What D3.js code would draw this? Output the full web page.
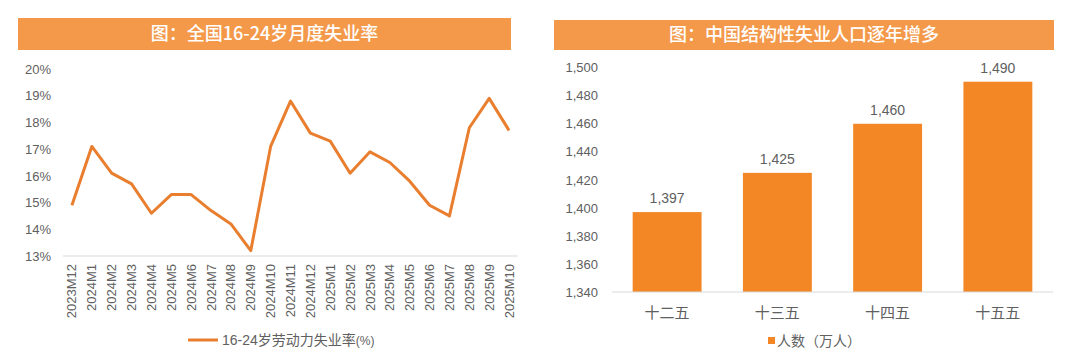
<!DOCTYPE html>
<html>
<head>
<meta charset="utf-8">
<script src="https://cdn.jsdelivr.net/npm/d3@7"></script>
<style>
  body { margin: 0; background: #fff; }
  svg text { font-family: "Liberation Sans", "Noto Sans CJK SC", sans-serif; }
</style>
</head>
<body>
<svg id="chart" width="1080" height="362"></svg>
<script>
// Left panel data: monthly unemployment rate, 16-24 age group (%)
const months = ["2023M12", "2024M1", "2024M2", "2024M3", "2024M4", "2024M5", "2024M6",
  "2024M7", "2024M8", "2024M9", "2024M10", "2024M11", "2024M12", "2025M1", "2025M2",
  "2025M3", "2025M4", "2025M5", "2025M6", "2025M7", "2025M8", "2025M9", "2025M10"];
const rates = [14.9, 17.1, 16.1, 15.7, 14.6, 15.3, 15.3, 14.7, 14.2, 13.2, 17.1, 18.8,
  17.6, 17.3, 16.1, 16.9, 16.5, 15.8, 14.9, 14.5, 17.8, 18.9, 17.7];
const rateTicks = [13, 14, 15, 16, 17, 18, 19, 20];

// Right panel data: structural unemployment (10k people)
const periods = ["十二五", "十三五", "十四五", "十五五"];
const people = [1397, 1425, 1460, 1490];
const peopleTicks = [1340, 1360, 1380, 1400, 1420, 1440, 1460, 1480, 1500];

const headerColor = "#F4994A";
const lineColor = "#E97E2F";
const barColor = "#F38625";
const textColor = "#606060";
const axisColor = "#D9D9D9";

const svg = d3.select("#chart");

// header bars
function header(x0, x1, y0, y1, title) {
  svg.append("rect")
    .attr("x", x0).attr("y", y0)
    .attr("width", x1 - x0).attr("height", y1 - y0)
    .attr("fill", headerColor);
  svg.append("text")
    .attr("x", (x0 + x1) / 2)
    .attr("y", (y0 + y1) / 2)
    .attr("dy", "0.36em")
    .attr("text-anchor", "middle")
    .attr("fill", "#fff")
    .attr("font-size", 18)
    .attr("font-weight", 500)
    .style("font-family", "'Noto Sans CJK SC', sans-serif")
    .text(title);
}
header(18, 511, 18, 50, "图：全国16-24岁月度失业率");
header(554, 1054, 20, 50, "图：中国结构性失业人口逐年增多");

// ---- left: line chart ----
const x = d3.scaleBand().domain(months).range([62, 519]);
const y = d3.scaleLinear().domain([13, 20]).range([256, 69]);

const left = svg.append("g");

left.append("g")
  .attr("transform", "translate(63,0)")
  .call(d3.axisLeft(y).tickValues(rateTicks).tickSize(0).tickPadding(12).tickFormat((d) => d + "%"))
  .call((g) => g.select(".domain").remove())
  .selectAll("text")
  .attr("fill", textColor)
  .attr("font-size", 13);

left.append("line")
  .attr("x1", 63).attr("x2", 518)
  .attr("y1", y(13)).attr("y2", y(13))
  .attr("stroke", axisColor);

left.append("g")
  .selectAll("text")
  .data(months)
  .join("text")
  .attr("transform", (d) => `translate(${x(d) + x.bandwidth() / 2},264) rotate(-90)`)
  .attr("dy", "0.35em")
  .attr("text-anchor", "end")
  .attr("fill", textColor)
  .attr("font-size", 13)
  .text((d) => d);

const line = d3.line()
  .x((d, i) => x(months[i]) + x.bandwidth() / 2)
  .y((d) => y(d));

left.append("path")
  .datum(rates)
  .attr("d", line)
  .attr("fill", "none")
  .attr("stroke", lineColor)
  .attr("stroke-width", 3)
  .attr("stroke-linejoin", "round");

// legend
left.append("line")
  .attr("x1", 188).attr("x2", 218)
  .attr("y1", 340).attr("y2", 340)
  .attr("stroke", lineColor)
  .attr("stroke-width", 3);
const lt = left.append("text")
  .attr("x", 222).attr("y", 345)
  .attr("fill", textColor)
  .attr("font-size", 14);
lt.append("tspan").text("16-24岁劳动力失业率");
lt.append("tspan").attr("font-size", 12).text("(%)");

// ---- right: bar chart ----
const xb = d3.scaleBand().domain(periods).range([612, 1053]).paddingInner(0.375).paddingOuter(0.1875);
const yb = d3.scaleLinear().domain([1340, 1500]).range([292, 67.7]);

const right = svg.append("g");

right.append("g")
  .attr("transform", "translate(612,0)")
  .call(d3.axisLeft(yb).tickValues(peopleTicks).tickSize(0).tickPadding(14).tickFormat(d3.format(",")))
  .call((g) => g.select(".domain").remove())
  .selectAll("text")
  .attr("fill", textColor)
  .attr("font-size", 13);

right.append("g")
  .selectAll("rect")
  .data(people)
  .join("rect")
  .attr("x", (d, i) => xb(periods[i]))
  .attr("y", (d) => yb(d))
  .attr("width", xb.bandwidth())
  .attr("height", (d) => yb(1340) - yb(d))
  .attr("fill", barColor);

right.append("line")
  .attr("x1", 612).attr("x2", 1053)
  .attr("y1", yb(1340)).attr("y2", yb(1340))
  .attr("stroke", axisColor);

right.append("g")
  .selectAll("text")
  .data(people)
  .join("text")
  .attr("x", (d, i) => xb(periods[i]) + xb.bandwidth() / 2)
  .attr("y", (d) => yb(d) - 9)
  .attr("text-anchor", "middle")
  .attr("fill", textColor)
  .attr("font-size", 14)
  .text((d) => d3.format(",")(d));

right.append("g")
  .selectAll("text")
  .data(periods)
  .join("text")
  .attr("x", (d) => xb(d) + xb.bandwidth() / 2)
  .attr("y", 318)
  .attr("text-anchor", "middle")
  .attr("fill", textColor)
  .attr("font-size", 15)
  .text((d) => d);

// legend
right.append("rect")
  .attr("x", 768).attr("y", 337)
  .attr("width", 7).attr("height", 7)
  .attr("fill", barColor);
right.append("text")
  .attr("x", 777).attr("y", 346)
  .attr("fill", textColor)
  .attr("font-size", 14)
  .text("人数（万人）");
</script>
</body>
</html>
